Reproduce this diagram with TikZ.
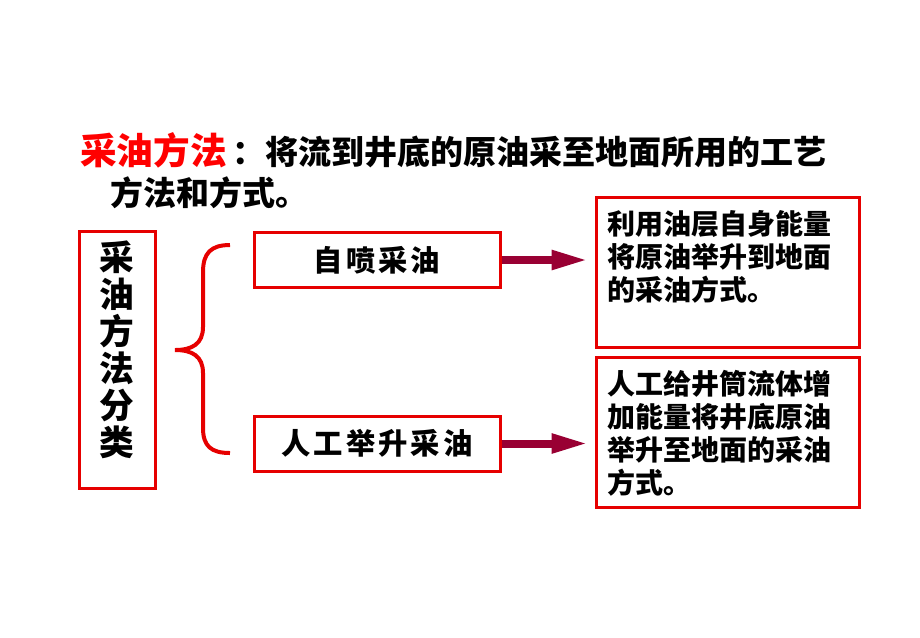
\documentclass[tikz,border=0pt]{standalone}
\usepackage{fontspec}
\newfontfamily\cjk{Noto Sans CJK SC}
\newfontfamily\cjkwide{Noto Sans CJK SC}[LetterSpace=10]
\usetikzlibrary{arrows.meta,positioning}
\definecolor{boxred}{RGB}{230,0,0}
\definecolor{arrowred}{RGB}{153,0,51}

\begin{document}
\begin{tikzpicture}[x=0.75pt,y=-0.75pt,
      redbox/.style={
         draw=boxred,
         line width=2.25pt,
         inner sep=0pt},
      sortbox/.style={redbox, minimum width=57pt, minimum height=192.75pt},
      kindbox/.style={redbox, minimum width=184.5pt, minimum height=41.25pt,
         font=\cjkwide\bfseries\fontsize{22pt}{22pt}\selectfont},
      descbox/.style={redbox, minimum width=197.25pt, minimum height=112.5pt},
      desctext/.style={anchor=north west, inner sep=0pt, align=left,
         font=\cjk\bfseries\fontsize{21pt}{24.75pt}\selectfont},
      titletext/.style={anchor=west, inner sep=0pt,
         font=\cjk\bfseries\fontsize{24.75pt}{24.75pt}\selectfont},
      myarrow/.style={draw=arrowred, line width=6pt,
         -{Triangle[length=27.75pt,width=13.5pt]}, shorten >=4.5pt},
      mybrace/.style={draw=boxred, line width=3pt}
      ]
      \useasboundingbox (0,0) rectangle (920,637);

      % title
      \node[titletext] (title) at (80,150)
         {{\color{red}\fontsize{27.5pt}{27.5pt}\selectfont 采油方法}\hspace{4.5pt}：将流到井底的原油采至地面所用的工艺};
      \node[titletext] (title2) at (110,193) {方法和方式。};

      % left column
      \node[sortbox] (sort) at (117,359.5) {};
      \node[inner sep=0pt, align=center,
         font=\cjk\bfseries\fontsize{26pt}{27.75pt}\selectfont] (sorttext) at (117,350)
         {采\\油\\方\\法\\分\\类};

      \draw[mybrace] (230,245) .. controls (211,245) and (203,253) .. (203,272)
         -- (203,327) .. controls (203,344) and (192,350) .. (175,350)
         .. controls (192,350) and (203,356) .. (203,373)
         -- (203,428) .. controls (203,446) and (211,453) .. (230,453);

      % two kinds
      \node[kindbox] (k1) at (377,260) {自喷采油};
      \node[kindbox] (k2) at (377,443.5) {人工举升采油};

      % descriptions
      \node[descbox] (d1) at (727.5,272) {};
      \node[descbox] (d2) at (727.5,432) {};
      \node[desctext] (t1) at (607,210) {利用油层自身能量\\将原油举升到地面\\的采油方式。};
      \node[desctext] (t2) at (607,370) {人工给井筒流体增\\加能量将井底原油\\举升至地面的采油\\方式。};

      \foreach \i/\j in {k1/d1, k2/d2}
         \draw[myarrow] (\i.east) -- (\i.east -| \j.west);

\end{tikzpicture}
\end{document}
